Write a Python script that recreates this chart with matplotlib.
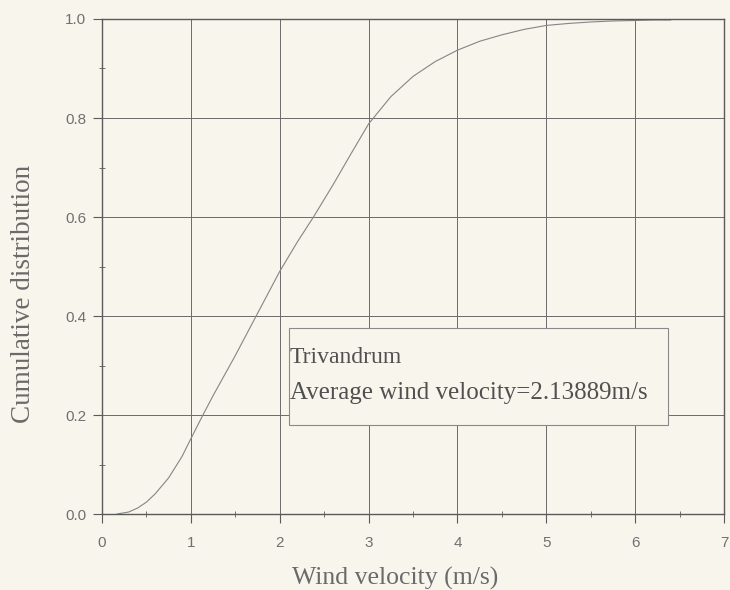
import matplotlib
matplotlib.use('Agg')
import matplotlib.pyplot as plt
from matplotlib.ticker import MultipleLocator

# values
v = [0.17, 0.3, 0.4, 0.5, 0.6, 0.75, 0.9, 1.0, 1.136, 1.25, 1.5, 1.735, 2.0, 2.2, 2.38, 2.6, 2.8,
     3.0, 3.25, 3.5, 3.75, 4.0, 4.25, 4.5, 4.75, 5.0, 5.25, 5.5, 5.75, 6.0, 6.2, 6.4]
F = [0.0, 0.004, 0.012, 0.024, 0.041, 0.073, 0.116, 0.152, 0.2, 0.239, 0.32, 0.4, 0.49, 0.55, 0.6, 0.665, 0.727,
     0.788, 0.843, 0.884, 0.914, 0.937, 0.955, 0.968, 0.979, 0.987, 0.991, 0.994, 0.996, 0.997, 0.998, 0.998]

site = 'Trivandrum'
avg_text = 'Average wind velocity=2.13889m/s'

bg = '#f7f5ec'

fig = plt.figure(figsize=(7.3, 5.9), dpi=100, facecolor=bg)
ax = fig.add_axes([0.1397, 0.1288, 0.8521, 0.839])
ax.set_facecolor(bg)

ax.plot(v, F, color='#858585', lw=0.8)

ax.set_xlim(0, 7)
ax.set_ylim(0, 1.0)
ax.xaxis.set_major_locator(MultipleLocator(1))
ax.xaxis.set_minor_locator(MultipleLocator(0.5))
ax.yaxis.set_major_locator(MultipleLocator(0.2))
ax.yaxis.set_minor_locator(MultipleLocator(0.1))
ax.yaxis.set_major_formatter(plt.FuncFormatter(lambda y, p: '%.1f' % y))

ax.grid(True, which='major', color='#6a6a6a', lw=0.7)
for s in ax.spines.values():
    s.set_color('#5a5a5a')
    s.set_linewidth(1.0)

ax.tick_params(which='major', direction='out', length=6.5, color='#5a5a5a',
               labelsize=11, labelcolor='#707070')
ax.tick_params(axis='x', which='major', pad=9)
ax.tick_params(axis='y', which='major', pad=5)
ax.tick_params(which='minor', direction='inout', length=5, color='#5a5a5a')
for lab in ax.get_xticklabels() + ax.get_yticklabels():
    lab.set_family('Liberation Sans')

ax.set_xlabel('Wind velocity (m/s)', family='Liberation Serif', fontsize=18.5,
              color='#6a6a6a')
ax.xaxis.set_label_coords(0.471, -0.106)
ax.set_ylabel('Cumulative distribution', family='Liberation Serif', fontsize=19.5,
              color='#6a6a6a')
ax.yaxis.set_label_coords(-0.106, 0.444)

# annotation box
ax.add_patch(plt.Rectangle((2.11, 0.18), 4.26, 0.195, transform=ax.transData,
                           facecolor=bg, edgecolor='#8a8a8a', lw=0.8, zorder=3))
ax.text(2.115, 0.305, site, family='Liberation Serif', fontsize=17,
        color='#505050', va='baseline', zorder=4)
ax.text(2.115, 0.232, avg_text, family='Liberation Serif', fontsize=18,
        color='#505050', va='baseline', zorder=4)

fig.savefig('out.png', dpi=100, facecolor=bg)
